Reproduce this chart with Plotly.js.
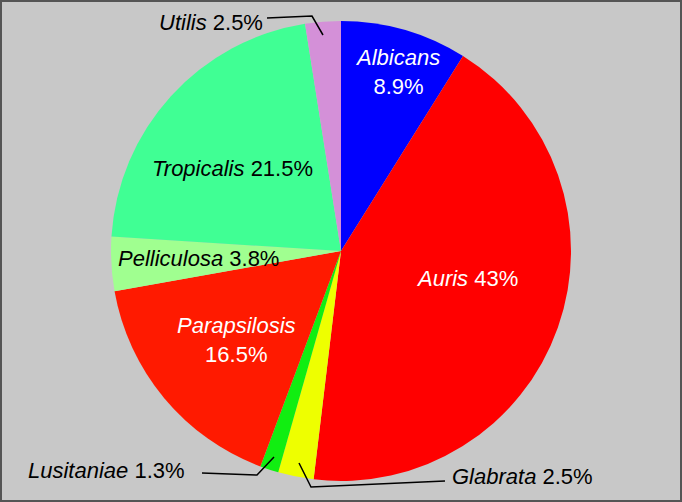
<!DOCTYPE html>
<html>
<head>
<meta charset="utf-8">
<script src="https://cdn.plot.ly/plotly-3.0.1.min.js"></script>
<style>
html,body{margin:0;padding:0;background:#c8c8c8;}
#chart{width:678px;height:498px;border:2px solid #555555;}
</style>
</head>
<body>
<div id="chart"></div>
<script>
var species = ["Albicans","Auris","Glabrata","Lusitaniae","Parapsilosis","Pelliculosa","Tropicalis","Utilis"];
var percents = [8.9, 43, 2.5, 1.3, 16.5, 3.8, 21.5, 2.5];
var colors = ["#0000ff","#ff0000","#eeff00","#11ee11","#ff1a00","#a0ff90","#40ff94","#d490d8"];
var textColors = ["#ffffff","#ffffff","#000000","#000000","#ffffff","#000000","#000000","#000000"];
var breakLine = [true,false,false,false,true,false,false,false];

var W = 678, H = 498, M = {l:0, r:0, t:19, b:19};
var pw = W - M.l - M.r, ph = H - M.t - M.b;
function px(x){ return (x - 2 - M.l) / pw; }
function py(y){ return 1 - (y - 2 - M.t) / ph; }

// label centers (page pixels)
var labelPos = [[397,72],[467,278],[522,476],[106,470],[236,340],[198,258],[232,168],[211,23]];

var annotations = species.map(function(s,i){
  return {
    xref:'paper', yref:'paper',
    x: px(labelPos[i][0]), y: py(labelPos[i][1]),
    xanchor:'center', yanchor:'middle',
    showarrow:false,
    text:'<i>'+s+'</i>'+(breakLine[i]?'<br>':' ')+percents[i]+'%',
    font:{family:'Liberation Sans, Arial, sans-serif', size:22, color:textColors[i]}
  };
});

function pathOf(pts){
  return pts.map(function(p,k){ return (k?'L':'M')+px(p[0])+','+py(p[1]); }).join(' ');
}
var leaders = [
  [[267,18],[312,16],[323,35]],
  [[202,473],[257,475],[274,457]],
  [[445,481],[311,487],[299,463]]
];
var shapes = leaders.map(function(pts){
  return {type:'path', xref:'paper', yref:'paper', path:pathOf(pts), line:{color:'#000000', width:1.5}};
});

var trace = {
  type:'pie',
  labels: species,
  values: percents,
  sort:false,
  direction:'clockwise',
  rotation:0,
  marker:{colors:colors, line:{width:0}},
  textinfo:'none',
  hoverinfo:'label+percent',
  showlegend:false
};

var layout = {
  width:W, height:H,
  margin:M,
  paper_bgcolor:'#c8c8c8',
  plot_bgcolor:'#c8c8c8',
  showlegend:false,
  annotations:annotations,
  shapes:shapes,
  font:{family:'Liberation Sans, Arial, sans-serif'}
};

Plotly.newPlot('chart',[trace],layout,{displayModeBar:false, staticPlot:true});
</script>
</body>
</html>
